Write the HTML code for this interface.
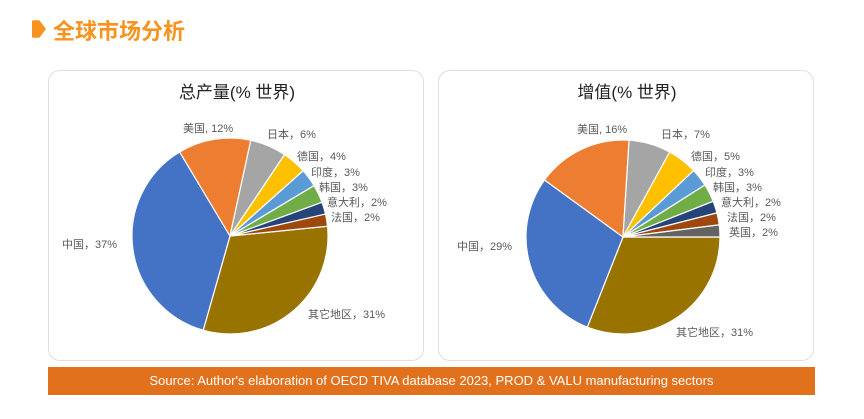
<!DOCTYPE html>
<html><head><meta charset="utf-8">
<style>
body{margin:0;width:864px;height:419px;background:#fff;overflow:hidden;font-family:"Liberation Sans","Noto Sans CJK SC",sans-serif;position:relative}
.card{position:absolute;top:70px;width:376px;height:291px;border:1px solid #dedede;border-radius:12px;box-sizing:border-box}
</style></head><body>
<svg width="14" height="18" style="position:absolute;left:32px;top:20px"><path d="M2,1 L7,1 L13,9 L7,17 L2,17 Q0,17 0,15 L0,3 Q0,1 2,1Z" fill="#F7931E" stroke="#F7931E" stroke-linejoin="round" stroke-width="1.5"/></svg>
<div style="position:absolute;left:53px;top:14px;font-size:22px;font-weight:bold;color:#F7931E;font-family:'Noto Sans CJK SC',sans-serif">全球市场分析</div>
<div class="card" style="left:48px"></div>
<div class="card" style="left:438px"></div>
<div style="position:absolute;left:48px;top:367px;width:767px;height:28px;background:#E2711D;color:#fff;font-size:13px;line-height:28px;text-align:center">Source: Author's elaboration of OECD TIVA database 2023, PROD &amp; VALU manufacturing sectors</div>
<svg id="svg" width="864" height="419" style="position:absolute;left:0;top:0" font-family="Liberation Sans, Noto Sans CJK SC, sans-serif">
<text x="237" y="98" font-size="17" text-anchor="middle" fill="#222">总产量(% 世界)</text>
<text x="627" y="98" font-size="17" text-anchor="middle" fill="#222">增值(% 世界)</text>
</svg>
<script>
const colors=["#997300","#4472C4","#ED7D31","#A5A5A5","#FFC000","#5B9BD5","#70AD47","#264478","#9E480E","#636363"];
const prodNames=["其它地区","中国","美国","日本","德国","印度","韩国","意大利","法国"];
const prodValues=[31,37,12,6,4,3,3,2,2];
const prodLabels=["其它地区，31%","中国，37%","美国, 12%","日本，6%","德国，4%","印度，3%","韩国，3%","意大利，2%","法国，2%"];
const valNames=["其它地区","中国","美国","日本","德国","印度","韩国","意大利","法国","英国"];
const valValues=[31,29,16,7,5,3,3,2,2,2];
const valLabels=["其它地区，31%","中国，29%","美国, 16%","日本，7%","德国，5%","印度，3%","韩国，3%","意大利，2%","法国，2%","英国，2%"];
const prodLabelPos=[[308,318],[62,248],[183,132],[267,138],[297,160],[311,176],[319,191],[327,206],[331,221]];
const valLabelPos=[[676,336],[457,250],[577,133],[661,138],[691,160],[705,176],[713,191],[721,206],[727,221],[729,236]];
const svg=document.getElementById('svg');
const NS='http://www.w3.org/2000/svg';
function pie(cx,cy,r,names,values,labels,pos,start,prefix){
  const total=values.reduce((a,b)=>a+b,0);
  let a=start;
  values.forEach((v,i)=>{
    const a2=a+v/total*2*Math.PI;
    const x1=cx+r*Math.cos(a),y1=cy+r*Math.sin(a),x2=cx+r*Math.cos(a2),y2=cy+r*Math.sin(a2);
    const p=document.createElementNS(NS,'path');
    p.setAttribute('d',`M${cx},${cy}L${x1},${y1}A${r},${r} 0 ${a2-a>Math.PI?1:0} 1 ${x2},${y2}Z`);
    p.setAttribute('fill',colors[i]);p.setAttribute('stroke','#fff');p.setAttribute('stroke-width','1.2');
    
    
    svg.appendChild(p);
    const t=document.createElementNS(NS,'text');
    t.setAttribute('x',pos[i][0]);t.setAttribute('y',pos[i][1]);
    t.setAttribute('font-size','11');t.setAttribute('fill','#595959');
    t.textContent=labels[i];
    
    
    svg.appendChild(t);
    a=a2;
  });
}
pie(230,236,98,prodNames,prodValues,prodLabels,prodLabelPos,-0.1,'production');
pie(623,237,97,valNames,valValues,valLabels,valLabelPos,0,'value-added');
</script>
</body></html>
